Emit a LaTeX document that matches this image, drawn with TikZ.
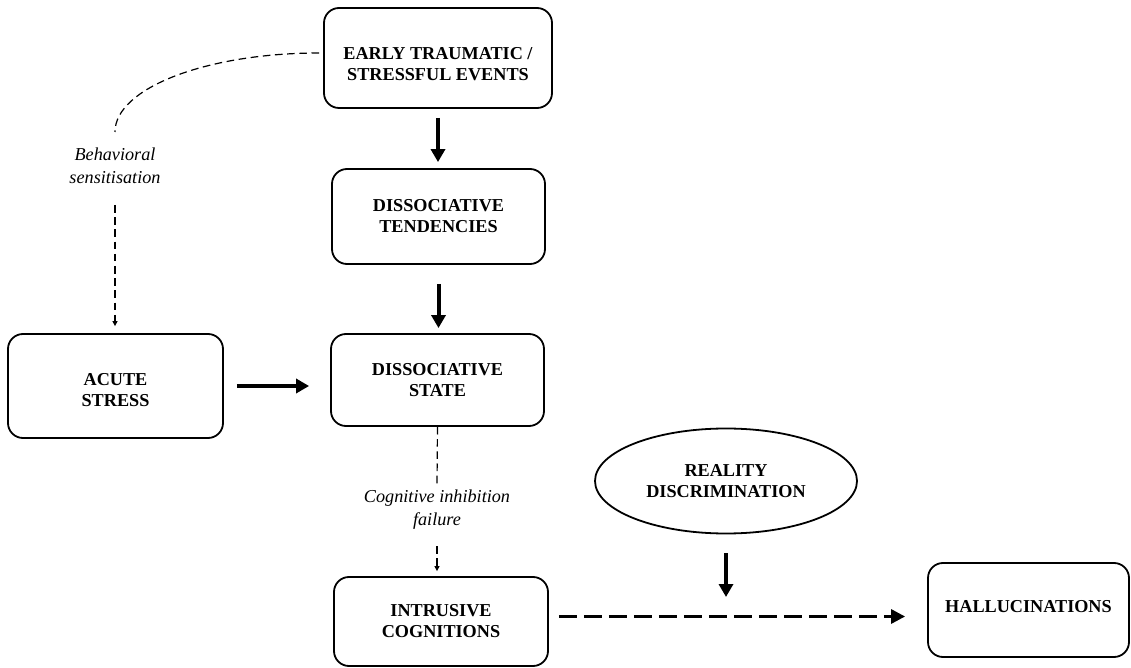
\documentclass[tikz,border=0pt]{standalone}
\usepackage{fontspec}
\setmainfont{Liberation Serif}
\usetikzlibrary{arrows.meta,shapes.geometric}
\begin{document}
\begin{tikzpicture}[x=0.5pt,y=-0.5pt,
 box/.style={draw, line width=0.9pt, rounded corners=7.5pt, align=center, inner sep=0pt,
   font=\bfseries\fontsize{9.1}{10.5}\selectfont},
 boxtext/.style={align=center, inner sep=0pt, font=\bfseries\fontsize{9.1}{10.5}\selectfont},
 lbl/.style={align=center, inner sep=1pt, font=\itshape\fontsize{9.1}{11.5}\selectfont},
 bigarrow/.style={line width=2pt, -{Triangle[length=6.5pt,width=7pt]}},
 thindash/.style={line width=0.6pt, dash pattern=on 3.8pt off 2.3pt},
 smalltip/.style={-{Triangle[length=2.5pt,width=2.5pt]}},
]
\useasboundingbox (0,0) rectangle (1131,668);

% boxes
\node[box, minimum width=114pt, minimum height=50pt] (early) at (438,58) {};
\node[boxtext] (earlytxt) at (438,64) {EARLY TRAUMATIC /\\STRESSFUL EVENTS};
\node[box, minimum width=106.5pt, minimum height=47.5pt] (tend) at (438.5,216.5) {DISSOCIATIVE\\TENDENCIES};
\node[box, minimum width=106.5pt, minimum height=46pt] (state) at (437.5,380) {DISSOCIATIVE\\STATE};
\node[box, minimum width=107.5pt, minimum height=52pt] (acute) at (115.5,386) {};
\node[boxtext] (acutetxt) at (115.5,390) {ACUTE\\STRESS};
\node[box, minimum width=107pt, minimum height=44.5pt] (intr) at (441,621.5) {INTRUSIVE\\COGNITIONS};
\node[box, minimum width=100.5pt, minimum height=47pt, text depth=4pt] (hall) at (1028.5,610) {HALLUCINATIONS};
\node[draw, ellipse, line width=0.9pt, minimum width=131pt, minimum height=52.5pt, inner sep=0pt, align=center,
   font=\bfseries\fontsize{9.1}{10.5}\selectfont] (rd) at (726,481) {REALITY\\DISCRIMINATION};

% labels
\node[lbl] (beh) at (115,166) {Behavioral\\sensitisation};
\node[lbl] (cog) at (437,510) {Cognitive inhibition\\failure};

% helper coordinates
\coordinate (bcurve) at (115,132);
\coordinate (bstart) at (115,205);
\coordinate (c1) at (437,485);
\coordinate (c2) at (437,546);
\coordinate (rdend) at (726,597);

% solid arrows
\draw[bigarrow, shorten <=4.5pt, shorten >=3pt] (early.south) -- (early.south |- tend.north);
\draw[bigarrow, shorten <=9.5pt, shorten >=2.5pt] (tend.south) -- (tend.south |- state.north);
\draw[bigarrow, line width=2.4pt, shorten <=6.5pt, shorten >=10.5pt] (acute.east) -- (acute.east -| state.west);
\draw[bigarrow, shorten <=9.5pt] (rd.south) -- (rdend);

% dashed connectors
\draw[thindash] ([yshift=2.5pt,xshift=-2pt]early.west) .. controls (207,53) and (115,88) .. (bcurve);
\draw[thindash, smalltip, shorten >=3.5pt] (bstart) -- (bstart |- acute.north);
\draw[thindash] (state.south) -- (c1);
\draw[thindash, smalltip, shorten >=2.5pt] (c2) -- (c2 |- intr.north);
\draw[line width=1.5pt, dash pattern=on 9pt off 3.5pt, -{Triangle[length=7pt,width=7pt]},
  shorten <=5pt, shorten >=11pt] ([yshift=2.5pt]intr.east) -- ([yshift=2.5pt]intr.east -| hall.west);
\end{tikzpicture}
\end{document}
